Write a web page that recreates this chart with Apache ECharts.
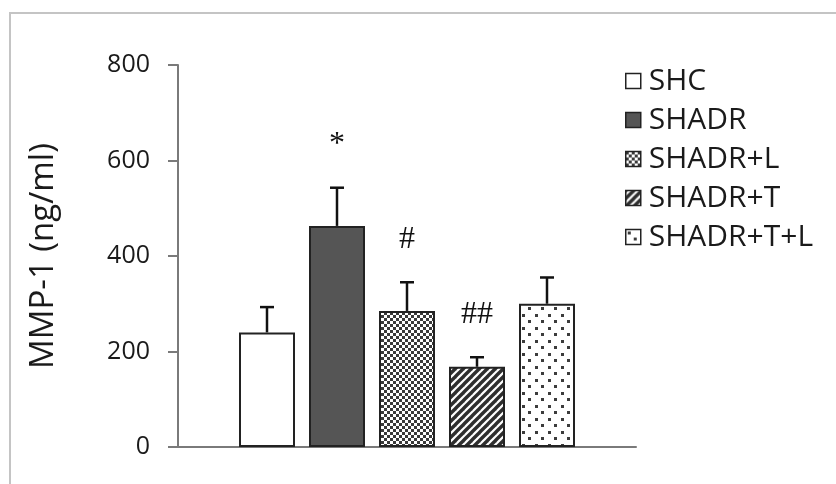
<!DOCTYPE html>
<html>
<head>
<meta charset="utf-8">
<script src="https://cdn.jsdelivr.net/npm/echarts@6/dist/echarts.min.js"></script>
<style>
  html, body { margin: 0; padding: 0; background: #fff; }
  #chart { width: 836px; height: 484px; }
</style>
</head>
<body>
<div id="chart"></div>
<script>
// MMP-1 concentration per treatment group (mean and upper SD)
const groups = ['SHC', 'SHADR', 'SHADR+L', 'SHADR+T', 'SHADR+T+L'];
const means = [240, 463, 285, 168, 300];
const errors = [53, 80, 60, 20, 55];
const marks = ['', '*', '#', '##', ''];
const yTicks = [0, 200, 400, 600, 800];

const BAR_W = 56;
const BAR_GAP = 14;
const EDGE = '#222222';

// Fill patterns drawn on small canvases and tiled
function tile(w, h, draw) {
  const c = document.createElement('canvas');
  c.width = w; c.height = h;
  const g = c.getContext('2d');
  draw(g, w, h);
  return { image: c, repeat: 'repeat' };
}
const solidWhite = '#ffffff';
const solidDark = '#555555';
const checker = tile(6, 6, (g) => {
  g.fillStyle = '#ffffff'; g.fillRect(0, 0, 6, 6);
  g.fillStyle = '#3a3a3a';
  g.fillRect(0, 0, 3, 3); g.fillRect(3, 3, 3, 3);
});
const stripes = tile(8, 8, (g) => {
  g.fillStyle = '#ffffff'; g.fillRect(0, 0, 8, 8);
  g.strokeStyle = '#2e2e2e'; g.lineWidth = 3.4;
  for (let k = -1; k <= 1; k++) {
    g.beginPath();
    g.moveTo(-2 + k * 8, 10); g.lineTo(10 + k * 8, -2);
    g.stroke();
  }
});
const dots = tile(13, 13, (g) => {
  g.fillStyle = '#ffffff'; g.fillRect(0, 0, 13, 13);
  g.fillStyle = '#3c3c3c';
  g.fillRect(2, 2, 3, 3); g.fillRect(8, 8, 3, 3);
});
const fills = [solidWhite, solidDark, checker, stripes, dots];

const barSeries = groups.map((name, i) => ({
  name: name,
  type: 'bar',
  data: [means[i]],
  barWidth: BAR_W,
  barGap: (BAR_GAP / BAR_W * 100) + '%',
  itemStyle: { color: fills[i], borderColor: EDGE, borderWidth: 2 },
  emphasis: { disabled: true },
  z: 2
}));

// Upper error bars with significance marks
const errorSeries = {
  type: 'custom',
  name: 'err',
  data: groups.map((g, i) => [i, means[i], errors[i]]),
  z: 5,
  silent: true,
  renderItem: function (params, api) {
    const i = api.value(0);
    const base = api.coord([0, api.value(1)]);
    const top = api.coord([0, api.value(1) + api.value(2)]);
    const x = base[0] + (i - 2) * (BAR_W + BAR_GAP);
    const style = { stroke: '#111', lineWidth: 2.5 };
    const children = [
      { type: 'line', shape: { x1: x, y1: base[1], x2: x, y2: top[1] }, style: style },
      { type: 'line', shape: { x1: x - 7, y1: top[1], x2: x + 7, y2: top[1] }, style: style }
    ];
    if (marks[i]) {
      children.push({
        type: 'text',
        style: {
          text: marks[i], x: x, y: top[1] - 27,
          align: 'center', verticalAlign: 'bottom',
          font: '32px "Liberation Serif", serif', fill: '#111'
        }
      });
    }
    return { type: 'group', children: children };
  }
};

const chart = echarts.init(document.getElementById('chart'), null, { renderer: 'canvas' });
chart.setOption({
  animation: false,
  backgroundColor: '#ffffff',
  graphic: [{
    type: 'rect',
    shape: { x: 10, y: 13, width: 900, height: 600 },
    style: { fill: 'none', stroke: '#c4c4c4', lineWidth: 2 },
    silent: true
  }],
  grid: { left: 178, right: 200, top: 65, bottom: 37, containLabel: false },
  legend: {
    orient: 'vertical',
    left: 620, top: 61,
    itemWidth: 15, itemHeight: 15,
    itemGap: 9,
    icon: 'rect',
    data: groups,
    itemStyle: { borderColor: EDGE, borderWidth: 1.5 },
    textStyle: { fontFamily: 'Open Sans', fontSize: 30, lineHeight: 30, color: '#1a1a1a', padding: [0, 0, 0, 3] },
    selectedMode: false
  },
  xAxis: {
    type: 'category',
    data: ['MMP-1'],
    axisLine: { lineStyle: { color: '#7a7a7a', width: 2 } },
    axisTick: { show: false },
    axisLabel: { show: false }
  },
  yAxis: {
    type: 'value',
    min: yTicks[0], max: yTicks[yTicks.length - 1], interval: 200,
    name: 'MMP-1 (ng/ml)',
    nameLocation: 'middle',
    nameGap: 118,
    nameTextStyle: { fontFamily: 'Open Sans', fontSize: 33, color: '#1a1a1a' },
    axisLine: { show: true, lineStyle: { color: '#7a7a7a', width: 2 } },
    axisTick: { show: true, length: 10, lineStyle: { color: '#7a7a7a', width: 2 } },
    axisLabel: { fontFamily: 'Open Sans', fontSize: 25, color: '#1a1a1a', margin: 28 },
    splitLine: { show: false }
  },
  series: barSeries.concat([errorSeries])
});
</script>
</body>
</html>
